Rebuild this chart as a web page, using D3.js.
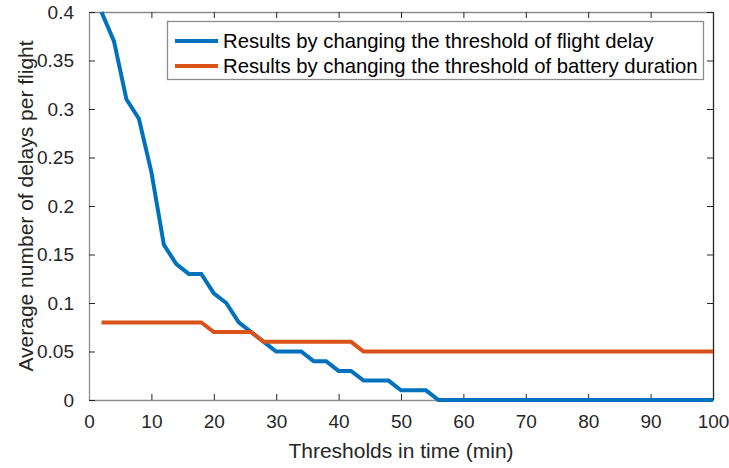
<!DOCTYPE html>
<html>
<head>
<meta charset="utf-8">
<script src="https://cdn.jsdelivr.net/npm/d3@7"></script>
<style>
  html, body { margin: 0; padding: 0; background: #fff; }
  svg { display: block; font-family: "Liberation Sans", Arial, Helvetica, sans-serif; }
</style>
</head>
<body>
<svg id="chart" width="729" height="468"></svg>
<script>
// ---- data ----
const thresholds = [2,4,6,8,10,12,14,16,18,20,22,24,26,28,30,32,34,36,38,40,42,44,46,48,50,
                    52,54,56,58,60,62,64,66,68,70,72,74,76,78,80,82,84,86,88,90,92,94,96,98,100];
const flightDelaySeries = [0.40,0.37,0.31,0.29,0.235,0.16,0.14,0.13,0.13,0.11,0.10,0.08,0.07,0.06,0.05,0.05,0.05,0.04,0.04,0.03,0.03,0.02,0.02,0.02,0.01,
                           0.01,0.01,0,0,0,0,0,0,0,0,0,0,0,0,0,0,0,0,0,0,0,0,0,0,0];
const batterySeries = [0.08,0.08,0.08,0.08,0.08,0.08,0.08,0.08,0.08,0.07,0.07,0.07,0.07,0.06,0.06,0.06,0.06,0.06,0.06,0.06,0.06,0.05,0.05,0.05,0.05,
                       0.05,0.05,0.05,0.05,0.05,0.05,0.05,0.05,0.05,0.05,0.05,0.05,0.05,0.05,0.05,0.05,0.05,0.05,0.05,0.05,0.05,0.05,0.05,0.05,0.05];
const xTicks = [0,10,20,30,40,50,60,70,80,90,100];
const yTicks = [0,0.05,0.1,0.15,0.2,0.25,0.3,0.35,0.4];
const yTickLabels = ["0","0.05","0.1","0.15","0.2","0.25","0.3","0.35","0.4"];
const seriesNames = ["Results by changing the threshold of flight delay",
                     "Results by changing the threshold of battery duration"];
const seriesColors = ["#0072BD", "#D95319"];
const xLabel = "Thresholds in time (min)";
const yLabel = "Average number of delays per flight";

// ---- layout ----
const L = 89, R = 713, T = 12, B = 400;
const svg = d3.select("#chart");
const x = d3.scaleLinear().domain([0, 100]).range([L, R]);
const y = d3.scaleLinear().domain([0, 0.4]).range([B, T]);

const tickColor = "#262626";
const axisGray = "#8c8c8c";

// axes with inward ticks
const xAxis = d3.axisBottom(x).tickValues(xTicks).tickSizeInner(-6).tickSizeOuter(0).tickPadding(15);
const yAxis = d3.axisLeft(y).tickValues(yTicks).tickFormat((d,i) => yTickLabels[i]).tickSizeInner(-6).tickSizeOuter(0).tickPadding(15);
const xAxisTop = d3.axisTop(x).tickValues(xTicks).tickSizeInner(-6).tickSizeOuter(0).tickFormat("");
const yAxisRight = d3.axisRight(y).tickValues(yTicks).tickSizeInner(-6).tickSizeOuter(0).tickFormat("");

function style(g, lineColor) {
  g.select(".domain").attr("stroke", lineColor).attr("stroke-width", 1.3);
  g.selectAll(".tick line").attr("stroke", tickColor).attr("stroke-width", 1);
  g.selectAll(".tick text").attr("fill", "#262626").style("font-size", "19px")
    .style("font-family", "'Liberation Sans', Arial, sans-serif");
}

svg.append("g").attr("transform", `translate(0,${T})`).call(xAxisTop).call(g => style(g, axisGray));
svg.append("g").attr("transform", `translate(${R},0)`).call(yAxisRight).call(g => style(g, tickColor));
svg.append("g").attr("transform", `translate(0,${B})`).call(xAxis).call(g => style(g, axisGray));
svg.append("g").attr("transform", `translate(${L},0)`).call(yAxis).call(g => style(g, axisGray));

// axis labels
svg.append("text").attr("x", (L + R) / 2).attr("y", 458).attr("text-anchor", "middle")
  .attr("fill", "#262626").style("font-size", "21px").text(xLabel);
svg.append("text").attr("transform", `translate(33,${(T + B) / 2}) rotate(-90)`).attr("text-anchor", "middle")
  .attr("fill", "#262626").style("font-size", "21px").text(yLabel);

// lines
const line = d3.line().x((d, i) => x(thresholds[i])).y(d => y(d));
[flightDelaySeries, batterySeries].forEach((s, k) => {
  svg.append("path").datum(s).attr("d", line).attr("fill", "none")
    .attr("stroke", seriesColors[k]).attr("stroke-width", 4).attr("stroke-linejoin", "miter");
});

// legend
const lg = svg.append("g");
lg.append("rect").attr("x", 167.5).attr("y", 21.5).attr("width", 536).attr("height", 58)
  .attr("fill", "#fff").attr("stroke", "#8c8c8c").attr("stroke-width", 1.3);
seriesNames.forEach((name, k) => {
  const yy = 41 + k * 25;
  lg.append("line").attr("x1", 175).attr("x2", 218).attr("y1", yy).attr("y2", yy)
    .attr("stroke", seriesColors[k]).attr("stroke-width", 4);
  lg.append("text").attr("x", 223).attr("y", yy + 7).attr("fill", "#000")
    .style("font-size", "20.3px").text(name);
});
</script>
</body>
</html>
